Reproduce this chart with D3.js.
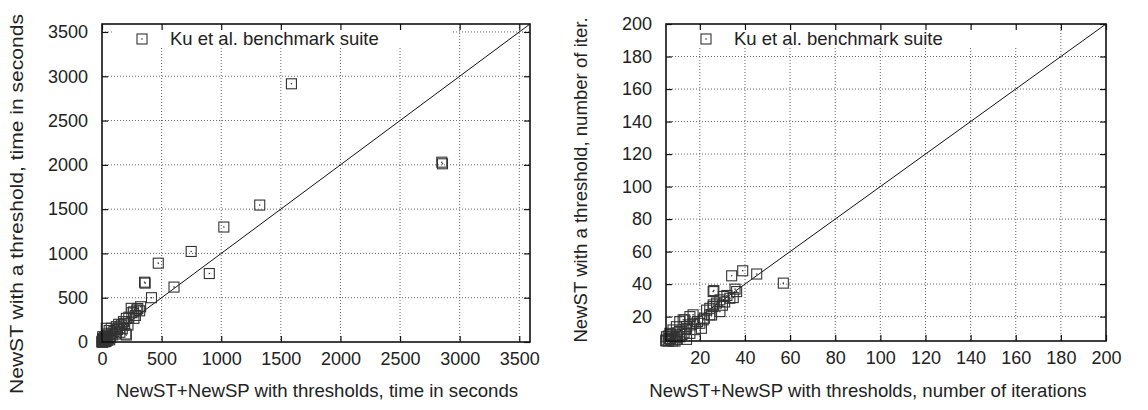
<!DOCTYPE html>
<html>
<head>
<meta charset="utf-8">
<script src="https://cdn.jsdelivr.net/npm/d3@7"></script>
<style>
  body { margin: 0; background: #fff; }
  svg { display: block; font-family: "Liberation Sans", Arial, Helvetica, sans-serif; }
  .grid line { stroke: #666; stroke-width: 1; stroke-dasharray: 1,2; }
  .tick-label { font-size: 18px; fill: #222; }
  .axis-title { font-size: 18.6px; fill: #222; }
  .legend-text { font-size: 18.5px; fill: #222; }
</style>
</head>
<body>
<div id="chart"></div>
<script>
// left panel: run time in seconds (x = NewST+NewSP with thresholds, y = NewST with a threshold)
const timeX = [1589, 2850, 2856, 1323, 1022, 748, 900, 472, 357, 362, 604, 415, 300, 316, 324, 245, 292,
  268, 204, 218, 200, 162, 204, 120, 78, 36, 150, 180, 130, 100, 60, 90, 70, 50, 40, 30, 20, 10, 15, 5,
  8, 25, 12, 45, 60, 3, 2, 18, 30, 5, 80, 110, 140, 170, 190, 250, 280, 225, 265, 150, 40, 22, 65, 35,
  6, 1, 0, 3];
const timeY = [2915, 2030, 2012, 1546, 1298, 1022, 773, 890, 675, 665, 620, 500, 378, 352, 398, 380, 362,
  267, 267, 192, 90, 192, 79, 173, 155, 155, 160, 230, 140, 120, 130, 80, 60, 90, 40, 60, 30, 20, 10, 8,
  5, 15, 40, 20, 40, 3, 12, 2, 5, 30, 100, 90, 200, 150, 210, 330, 300, 280, 340, 110, 70, 50, 25, 10,
  60, 1, 2, 0];

// right panel: number of iterations
const iterX = [34.1, 39, 45.2, 57, 26.2, 35.6, 34.8, 33.3, 28.9, 30.4, 27.4, 25.9, 28.9, 24.4, 20.7, 17,
  11.1, 13.3, 14.1, 15.6, 20, 14.1, 25.9, 36.3, 24.4, 25.9, 25.2, 15.6, 12.6, 17, 21.5, 9.6, 8.1, 14.1,
  15.6, 11.1, 6.7, 5.2, 5, 6, 7, 8, 9, 10, 5, 6, 7, 12, 10, 8, 11, 13, 5, 6.5, 9, 18, 19, 22, 23, 31, 32, 30];
const iterY = [45.1, 48.2, 46.2, 40.6, 36, 36.9, 31.7, 31.3, 30.3, 32.4, 28.3, 26.2, 23.1, 21.1, 12.8, 21.1,
  16.9, 18, 13.9, 14.9, 15.9, 6, 35.4, 35.4, 25.1, 27.2, 21, 20, 18, 15.9, 18, 13.8, 11.8, 12.8,
  9.7, 7.6, 9.7, 7.6, 5, 5, 6, 5, 7, 6, 5.5, 8, 9, 9, 10, 8, 11, 10, 5.5, 6.5, 5, 12, 17, 19, 24, 29, 33, 27];

const timeTicks = [0, 500, 1000, 1500, 2000, 2500, 3000, 3500];
const iterTicks = [20, 40, 60, 80, 100, 120, 140, 160, 180, 200];

const legendLabel = "Ku et al. benchmark suite";

const width = 1148, height = 410;

const svg = d3.select("#chart").append("svg")
  .attr("width", width)
  .attr("height", height);

function drawPanel(opts) {
  const { box, domain, ticks, xs, ys, xTitle, yTitle, xTitleX, yTitleX, yTitleY, yTitleLen } = opts;

  const x = d3.scaleLinear().domain(domain).range([box.left, box.right]);
  const y = d3.scaleLinear().domain(domain).range([box.bottom, box.top]);

  const g = svg.append("g");

  // dotted grid
  const grid = g.append("g").attr("class", "grid");
  grid.selectAll("line.v").data(ticks.filter(t => x(t) > box.left + 1 && x(t) < box.right - 1))
    .join("line").attr("class", "v")
    .attr("x1", d => x(d)).attr("x2", d => x(d))
    .attr("y1", box.top).attr("y2", box.bottom);
  grid.selectAll("line.h").data(ticks.filter(t => y(t) < box.bottom - 1 && y(t) > box.top + 1))
    .join("line").attr("class", "h")
    .attr("x1", box.left).attr("x2", box.right)
    .attr("y1", d => y(d)).attr("y2", d => y(d));

  // opaque key box over the grid
  const keyX = box.left + 40;
  g.append("rect")
    .attr("x", keyX - 29).attr("y", box.top + 1)
    .attr("width", 340).attr("height", 22)
    .attr("fill", "#fff");

  // axes via d3 axis generators, ticks inward, mirrored on opposite sides
  const tickLen = 6;
  const axB = g.append("g").attr("transform", `translate(0,${box.bottom})`)
    .call(d3.axisBottom(x).tickValues(ticks).tickSize(-tickLen).tickPadding(10).tickFormat(d3.format("d")));
  const axT = g.append("g").attr("transform", `translate(0,${box.top})`)
    .call(d3.axisTop(x).tickValues(ticks).tickSize(-tickLen).tickFormat(""));
  const axL = g.append("g").attr("transform", `translate(${box.left},0)`)
    .call(d3.axisLeft(y).tickValues(ticks).tickSize(-tickLen).tickPadding(14).tickFormat(d3.format("d")));
  const axR = g.append("g").attr("transform", `translate(${box.right},0)`)
    .call(d3.axisRight(y).tickValues(ticks).tickSize(-tickLen).tickFormat(""));

  [axB, axT, axL, axR].forEach(a => {
    a.select(".domain").remove();
    a.selectAll(".tick line").attr("stroke", "#111").attr("stroke-width", 1.2);
    a.selectAll(".tick text").attr("class", "tick-label").attr("font-size", null).attr("font-family", null);
  });

  // diagonal y = x
  g.append("line")
    .attr("x1", x(domain[0])).attr("y1", y(domain[0]))
    .attr("x2", x(domain[1])).attr("y2", y(domain[1]))
    .attr("stroke", "#111").attr("stroke-width", 1);

  // points: open squares with a center dot
  const pts = xs.map((v, i) => [v, ys[i]]);
  const s = 10;
  const pg = g.append("g");
  pg.selectAll("rect").data(pts).join("rect")
    .attr("x", d => x(d[0]) - s / 2).attr("y", d => y(d[1]) - s / 2)
    .attr("width", s).attr("height", s)
    .attr("fill", "none").attr("stroke", "#333").attr("stroke-width", 1.1);
  pg.selectAll("circle").data(pts).join("circle")
    .attr("cx", d => x(d[0])).attr("cy", d => y(d[1]))
    .attr("r", 0.8).attr("fill", "#333");

  // frame
  g.append("rect")
    .attr("x", box.left).attr("y", box.top)
    .attr("width", box.right - box.left).attr("height", box.bottom - box.top)
    .attr("fill", "none").attr("stroke", "#111").attr("stroke-width", 1.6);

  // key
  g.append("rect")
    .attr("x", keyX - s / 2).attr("y", box.top + 15 - s / 2)
    .attr("width", s).attr("height", s)
    .attr("fill", "none").attr("stroke", "#333").attr("stroke-width", 1.1);
  g.append("circle").attr("cx", keyX).attr("cy", box.top + 15).attr("r", 0.8).attr("fill", "#333");
  g.append("text").attr("class", "legend-text")
    .attr("x", keyX + 28).attr("y", box.top + 21)
    .text(legendLabel);

  // titles
  g.append("text").attr("class", "axis-title")
    .attr("x", xTitleX).attr("y", 397)
    .attr("text-anchor", "middle")
    .text(xTitle);
  const yt = g.append("text").attr("class", "axis-title")
    .attr("transform", `translate(${yTitleX},${yTitleY}) rotate(-90)`)
    .attr("text-anchor", "middle")
    .text(yTitle);
  if (yTitleLen) yt.attr("textLength", yTitleLen).attr("lengthAdjust", "spacingAndGlyphs");
}

drawPanel({
  box: { left: 102, right: 530, top: 24, bottom: 342 },
  domain: [0, 3590],
  ticks: timeTicks,
  xs: timeX, ys: timeY,
  xTitle: "NewST+NewSP with thresholds, time in seconds",
  yTitle: "NewST with a threshold, time in seconds",
  xTitleX: 317,
  yTitleX: 23, yTitleY: 204, yTitleLen: 380
});

drawPanel({
  box: { left: 666, right: 1106, top: 24, bottom: 341 },
  domain: [5, 200],
  ticks: iterTicks,
  xs: iterX, ys: iterY,
  xTitle: "NewST+NewSP with thresholds, number of iterations",
  yTitle: "NewST with a threshold, number of iter.",
  xTitleX: 868,
  yTitleX: 587, yTitleY: 180
});
</script>
</body>
</html>
